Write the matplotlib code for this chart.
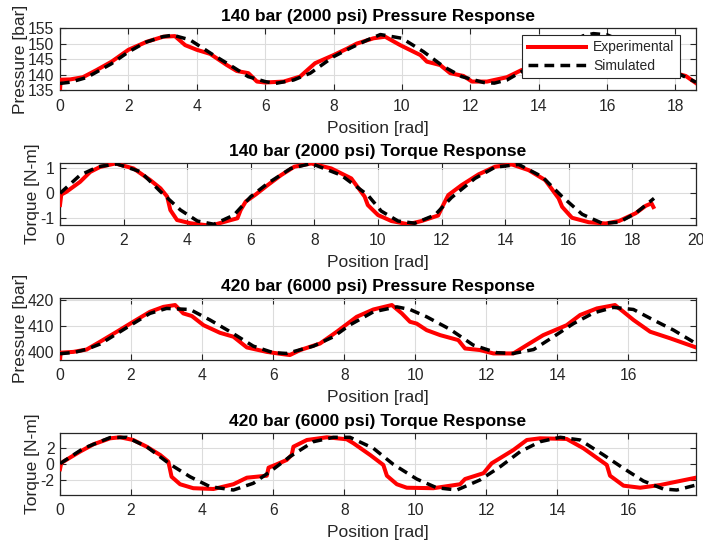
import numpy as np
import matplotlib
matplotlib.use("Agg")
import matplotlib.pyplot as plt

plt.rcParams['font.family'] = ['Liberation Sans', 'DejaVu Sans']
plt.rcParams['lines.scale_dashes'] = False
plt.rcParams['axes.unicode_minus'] = False

# ---------------- Data ----------------
# Panel 1: 140 bar pressure
p140_exp_x = [0, 0.02, 0.3, 0.67, 1.07, 1.51, 2.0, 2.54, 3.02, 3.36, 3.66, 4.0, 4.39, 4.88, 5.17, 5.51,
              5.76, 6.0, 6.54, 7.02, 7.46, 8.0, 8.4, 8.68, 9.17, 9.51, 9.95, 10.54, 10.73, 11.12, 11.41,
              11.8, 12.05, 12.49, 13.07, 13.5, 14.0, 14.5, 15.0, 15.4, 15.7, 16.1, 16.5, 17.0, 17.5,
              18.0, 18.3, 18.6]
p140_exp_y = [135, 138.4, 138.5, 139.2, 141.5, 144.2, 148.0, 150.6, 152.2, 152.4, 149.5, 148.0, 146.7,
              143.1, 141.2, 140.5, 137.8, 137.5, 137.8, 139.4, 143.7, 146.3, 148.4, 150.0, 151.7, 152.2,
              149.5, 146.3, 144.2, 143.1, 140.5, 139.6, 137.8, 137.8, 139.2, 141.5, 143.0, 145.5, 148.5,
              150.8, 152.0, 150.5, 148.0, 145.5, 142.5, 140.5, 139.6, 137.3]
p140_sim_x = [0, 0.3, 0.78, 1.5, 2.0, 2.5, 3.0, 3.3, 3.8, 4.49, 4.97, 5.5, 6.0, 6.3, 6.83, 7.32, 8.0,
              8.5, 9.0, 9.37, 10.0, 10.63, 11.22, 11.75, 12.39, 12.7, 13.07, 13.66, 14.2, 14.8, 15.3,
              15.6, 16.0, 16.5, 17.0, 17.5, 18.0, 18.6]
p140_sim_y = [137.2, 137.6, 139.1, 143.5, 147.3, 150.4, 152.2, 152.7, 151.2, 146.3, 143.1, 139.4, 137.8,
              137.2, 138.3, 140.5, 145.8, 148.6, 151.2, 152.9, 151.7, 147.4, 142.6, 139.4, 137.5, 137.3,
              138.3, 142.0, 145.5, 149.5, 152.5, 153.2, 152.8, 150.5, 147.5, 144.0, 140.8, 137.6]

# Panel 2: 140 bar torque
t140_exp_x = [0, 0.04, 0.21, 0.63, 0.95, 1.26, 1.74, 2.31, 2.84, 3.16, 3.37, 3.47, 3.68, 4.1, 4.74,
              5.26, 5.58, 5.68, 5.84, 6.16, 6.53, 6.95, 7.37, 7.9, 8.53, 9.16, 9.58, 9.68, 10.0, 10.42,
              10.95, 11.37, 11.89, 12.05, 12.21, 12.63, 13.16, 13.68, 14.21, 14.74, 15.26, 15.68,
              15.79, 16.1, 16.63, 17.16, 17.58, 18.1, 18.42, 18.6, 18.66]
t140_exp_y = [-0.47, -0.05, 0.07, 0.46, 0.86, 1.06, 1.2, 1.0, 0.53, 0.2, -0.13, -0.67, -1.07, -1.2,
              -1.3, -1.11, -1.0, -0.67, -0.33, -0.04, 0.33, 0.73, 1.07, 1.2, 1.0, 0.6, -0.13, -0.47,
              -0.87, -1.11, -1.24, -1.11, -0.89, -0.47, -0.07, 0.33, 0.76, 1.07, 1.16, 0.93, 0.53,
              -0.2, -0.54, -0.98, -1.16, -1.21, -1.11, -0.8, -0.5, -0.4, -0.55]
t140_sim_x = [0, 0.63, 1.2, 1.79, 2.53, 3.16, 3.79, 4.32, 4.84, 5.47, 6.0, 6.53, 7.26, 7.9, 8.84, 9.68,
              10.1, 10.63, 11.16, 11.79, 12.31, 13.05, 13.68, 14.42, 15.16, 15.79, 16.42, 17.05, 17.58,
              18.1, 18.68]
t140_sim_y = [0.0, 0.73, 1.07, 1.18, 0.87, 0.07, -0.67, -1.11, -1.24, -0.87, -0.13, 0.4, 1.0, 1.2, 0.73,
              -0.07, -0.71, -1.11, -1.2, -0.87, -0.17, 0.6, 1.05, 1.16, 0.67, -0.13, -0.84, -1.2, -1.16,
              -0.8, -0.2]

# Panel 3: 420 bar pressure
p420_exp_x = [0, 0.02, 0.375, 0.75, 1.13, 1.6, 2.06, 2.53, 2.91, 3.24, 3.47, 3.71, 4.04, 4.5, 4.88,
              5.26, 5.82, 6.29, 6.47, 6.76, 7.32, 7.8, 8.35, 8.82, 9.34, 9.62, 9.85, 10.04, 10.32, 10.7,
              11.21, 11.4, 11.82, 12.2, 12.76, 13.14, 13.6, 14.26, 14.64, 15.11, 15.62, 15.86, 16.14,
              16.61, 17.17, 17.9]
p420_exp_y = [397, 399.9, 400.2, 401.1, 404.1, 407.9, 411.7, 415.5, 417.4, 418.1, 414.9, 413.9, 410.4,
              407.5, 406.0, 401.9, 400.2, 399.3, 399.0, 400.9, 403.4, 408.0, 413.6, 416.4, 418.1, 414.9,
              411.7, 411.0, 408.5, 406.6, 404.7, 401.5, 400.9, 399.6, 399.6, 402.8, 406.6, 410.4, 414.3,
              416.8, 418.1, 415.5, 412.4, 407.9, 405.4, 401.9]
p420_sim_x = [0, 0.4, 0.75, 1.13, 2.06, 2.53, 3.0, 3.66, 4.22, 4.79, 5.44, 6.0, 6.38, 7.13, 7.7, 8.16,
              8.82, 9.48, 9.85, 10.32, 10.98, 11.63, 12.29, 12.76, 13.33, 13.89, 14.45, 15.02, 15.58,
              16.14, 16.7, 17.27, 17.9]
p420_sim_y = [399.5, 400.0, 401.2, 403.2, 411.0, 414.9, 416.8, 416.4, 412.4, 407.9, 402.4, 399.9, 399.6,
              402.4, 406.0, 410.5, 415.5, 417.4, 416.4, 413.6, 408.8, 402.8, 399.9, 399.6, 401.1, 406.0,
              411.0, 415.1, 417.2, 416.4, 412.4, 408.5, 403.4]

# Panel 4: 420 bar torque
t420_exp_x = [0, 0.03, 0.09, 0.56, 0.94, 1.41, 1.69, 2.06, 2.44, 2.82, 3.05, 3.1, 3.14, 3.38, 3.75,
              4.32, 4.88, 5.26, 5.82, 5.87, 6.1, 6.38, 6.52, 6.57, 6.95, 7.51, 8.07, 8.26, 8.73, 9.1,
              9.2, 9.48, 9.76, 10.51, 11.26, 11.4, 11.92, 12.15, 12.76, 13.14, 13.51, 14.26, 14.73,
              15.39, 15.48, 15.86, 16.33, 16.89, 17.9]
t420_exp_y = [-0.7, 0.0, 0.25, 1.52, 2.45, 3.21, 3.34, 3.0, 2.15, 1.1, 0.25, -0.8, -1.65, -2.6, -3.1,
              -3.2, -2.6, -1.77, -1.52, -0.5, -0.08, 0.47, 1.1, 2.15, 3.0, 3.34, 3.09, 2.58, 1.1, -0.16,
              -1.52, -2.6, -3.04, -3.1, -2.6, -1.94, -1.2, 0.05, 1.73, 3.0, 3.21, 3.13, 1.95, -0.16,
              -1.52, -2.78, -3.04, -2.7, -1.77]
t420_sim_x = [0, 0.66, 1.41, 1.88, 2.44, 3.1, 3.66, 4.22, 4.88, 5.44, 5.91, 6.47, 7.13, 7.7, 8.16,
              8.82, 9.38, 10.04, 10.6, 11.17, 11.82, 12.39, 12.95, 13.51, 14.08, 14.64, 15.3, 15.86,
              16.42, 16.98, 17.36, 17.9]
t420_sim_y = [0.0, 1.94, 3.3, 3.34, 2.15, -0.08, -1.65, -2.9, -3.33, -2.48, -1.01, 0.89, 2.78, 3.34,
              3.34, 1.95, -0.08, -1.94, -3.04, -3.33, -2.06, -0.38, 1.52, 2.78, 3.34, 3.0, 1.1, -0.59,
              -2.19, -3.2, -3.33, -2.7]

titles = ["140 bar (2000 psi) Pressure Response", "140 bar (2000 psi) Torque Response",
          "420 bar (6000 psi) Pressure Response", "420 bar (6000 psi) Torque Response"]
ylabels = ["Pressure [bar]", "Torque [N-m]", "Pressure [bar]", "Torque [N-m]"]
xlims = [(0, 18.6), (0, 20), (0, 17.9), (0, 17.9)]
ylims = [(135, 155), (-1.27, 1.23), (397.1, 420.9), (-3.96, 3.92)]
xticks = [np.arange(0, 19, 2), np.arange(0, 21, 2), np.arange(0, 17, 2), np.arange(0, 17, 2)]
yticks = [[135, 140, 145, 150, 155], [-1, 0, 1], [400, 410, 420], [-2, 0, 2]]

series = [(p140_exp_x, p140_exp_y, p140_sim_x, p140_sim_y),
          (t140_exp_x, t140_exp_y, t140_sim_x, t140_sim_y),
          (p420_exp_x, p420_exp_y, p420_sim_x, p420_sim_y),
          (t420_exp_x, t420_exp_y, t420_sim_x, t420_sim_y)]

# ---------------- Figure ----------------
fig = plt.figure(figsize=(7.03, 5.42), dpi=100)
W, H = 703, 542
tops = [28, 162.7, 297.7, 432.7]
ax_h = 62.3
left, right = 60, 696
txt = '#262626'
fs = 12.5
tfs = 11.3

for i in range(4):
    ax = fig.add_axes([left / W, 1 - (tops[i] + ax_h) / H, (right - left) / W, ax_h / H])
    ex, ey, sx, sy = series[i]
    ax.plot(ex, ey, color='#ff0000', lw=2.9, solid_joinstyle='round', label='Experimental', zorder=3)
    ax.plot(sx, sy, color='black', lw=2.5, linestyle=(0, (7, 4.5)), label='Simulated', zorder=4)
    ax.set_xlim(*xlims[i])
    ax.set_ylim(*ylims[i])
    ax.set_xticks(xticks[i])
    ax.set_yticks(yticks[i])
    ax.grid(True, color='#dcdcdc', lw=0.8)
    ax.set_axisbelow(True)
    ax.tick_params(direction='in', length=4, width=0.8, top=True, right=True,
                   labelsize=tfs, colors=txt)
    ax.tick_params(axis='x', pad=6)
    ax.tick_params(axis='y', pad=4)
    for s in ax.spines.values():
        s.set_color(txt)
        s.set_linewidth(0.9)
    ax.set_title(titles[i], fontsize=fs, fontweight='bold', color='black', pad=5)
    ax.set_xlabel("Position [rad]", fontsize=fs, color=txt, labelpad=5)
    ax.set_ylabel(ylabels[i], fontsize=fs, color=txt, labelpad=0)
    if i == 0:
        leg = ax.legend(loc='upper right', bbox_to_anchor=(0.975, 0.89), fontsize=10,
                        frameon=True, fancybox=False, framealpha=1, edgecolor=txt,
                        handlelength=4.2, borderpad=0.4, labelspacing=0.3, handletextpad=0.5,
                        borderaxespad=0)
        leg.get_frame().set_linewidth(0.8)
        for t in leg.get_texts():
            t.set_color(txt)

fig.savefig("out.png", dpi=100)
